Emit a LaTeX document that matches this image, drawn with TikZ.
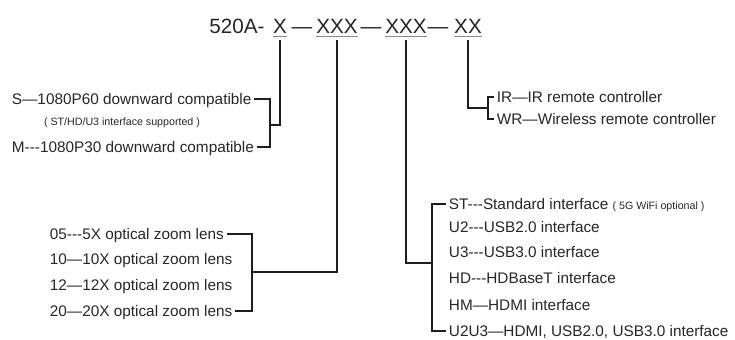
\documentclass[tikz,border=0pt]{standalone}
\usepackage{fontspec}
\newfontfamily\lbl{Liberation Sans}
\usepackage{xcolor}
\definecolor{cInk}{HTML}{262626}
\definecolor{cLine}{HTML}{1E1E1E}
\definecolor{cRule}{HTML}{8A8A8A}
\usetikzlibrary{positioning}
\tikzset{
  code-part/.style={font=\lbl\fontsize{15.5}{18}\selectfont,text=cInk,
    inner sep=0pt,anchor=base},
  opt-text/.style={font=\lbl\fontsize{11.5}{13}\selectfont,text=cInk,
    inner xsep=2pt,inner ysep=1pt,text height=8pt,text depth=0pt},
  opt-left/.style={opt-text,anchor=west},
  opt-small/.style={font=\lbl\fontsize{8}{9}\selectfont,text=cInk},
  conn/.style={draw=cLine,line width=1.1pt},
  uline/.style={draw=cRule,line width=0.6pt},
}
\newcommand{\smallnote}[1]{{\fontsize{8}{9}\selectfont #1}}

\begin{document}
\begin{tikzpicture}[x=0.75pt,y=-0.75pt]
  \useasboundingbox (0,0) rectangle (735,339);
  % model code
  \node[code-part] (pHead)   at (237,33) {520A-};
  \node[code-part] (pX)      at (280,33) {X};
  \node[code-part] (pDashA)  at (302,33) {—};
  \node[code-part] (pLens)   at (337,33) {XXX};
  \node[code-part] (pDashB)  at (371,33) {—};
  \node[code-part] (pIface)  at (406,33) {XXX};
  \node[code-part] (pDashC)  at (438,33) {—};
  \node[code-part] (pRemote) at (468,33) {XX};
  \foreach \p in {pX,pLens,pIface,pRemote}
    \draw[uline] ([yshift=-2pt]\p.south west) -- ([yshift=-2pt]\p.south east);

  % resolution
  \node[opt-left] (optS) at (9,99) {S—1080P60 downward compatible};
  \node[opt-small] (noteS) at (122,123) {( ST/HD/U3 interface supported )};
  \node[opt-left] (optM) at (9,147) {M---1080P30 downward compatible};
  \coordinate (xbr) at (270,125);
  \draw[conn] (optS.east) -| (xbr) |- (optM.east);
  \draw[conn] ([yshift=-5pt]pX.south) |- (xbr);

  % zoom lens
  \node[opt-left] (lens05) at (47,234) {05---5X optical zoom lens\hspace{12pt}};
  \node[opt-left] (lens10) at (47,259) {10—10X optical zoom lens};
  \node[opt-left] (lens12) at (47,285) {12—12X optical zoom lens};
  \node[opt-left] (lens20) at (47,311) {20—20X optical zoom lens};
  \coordinate (lbr) at (252,272);
  \draw[conn] (lens05.east) -| (lbr) |- (lens20.east);
  \draw[conn] ([yshift=-5pt]pLens.south) |- (lbr);

  % interface
  \node[opt-left] (ifST)   at (446,204) {ST---Standard interface \smallnote{( 5G WiFi optional )}};
  \node[opt-left] (ifU2)   at (446,227) {U2---USB2.0 interface};
  \node[opt-left] (ifU3)   at (446,252) {U3---USB3.0 interface};
  \node[opt-left] (ifHD)   at (446,278) {HD---HDBaseT interface};
  \node[opt-left] (ifHM)   at (446,305) {HM—HDMI interface};
  \node[opt-left] (ifU2U3) at (446,331) {U2U3—HDMI, USB2.0, USB3.0 interface};
  \coordinate (ibr) at (432,263);
  \draw[conn] (ifST.west) -| (ibr) |- (ifU2U3.west);
  \draw[conn] ([yshift=-5pt]pIface.south) |- (ibr);

  % remote
  \node[opt-left] (rIR) at (494,97)  {IR—IR remote controller};
  \node[opt-left] (rWR) at (494,119) {WR—Wireless remote controller};
  \coordinate (rbr) at (488,108);
  \draw[conn] (rIR.west) -| (rbr) |- (rWR.west);
  \draw[conn] ([yshift=-5pt]pRemote.south) |- (rbr);
\end{tikzpicture}
\end{document}
